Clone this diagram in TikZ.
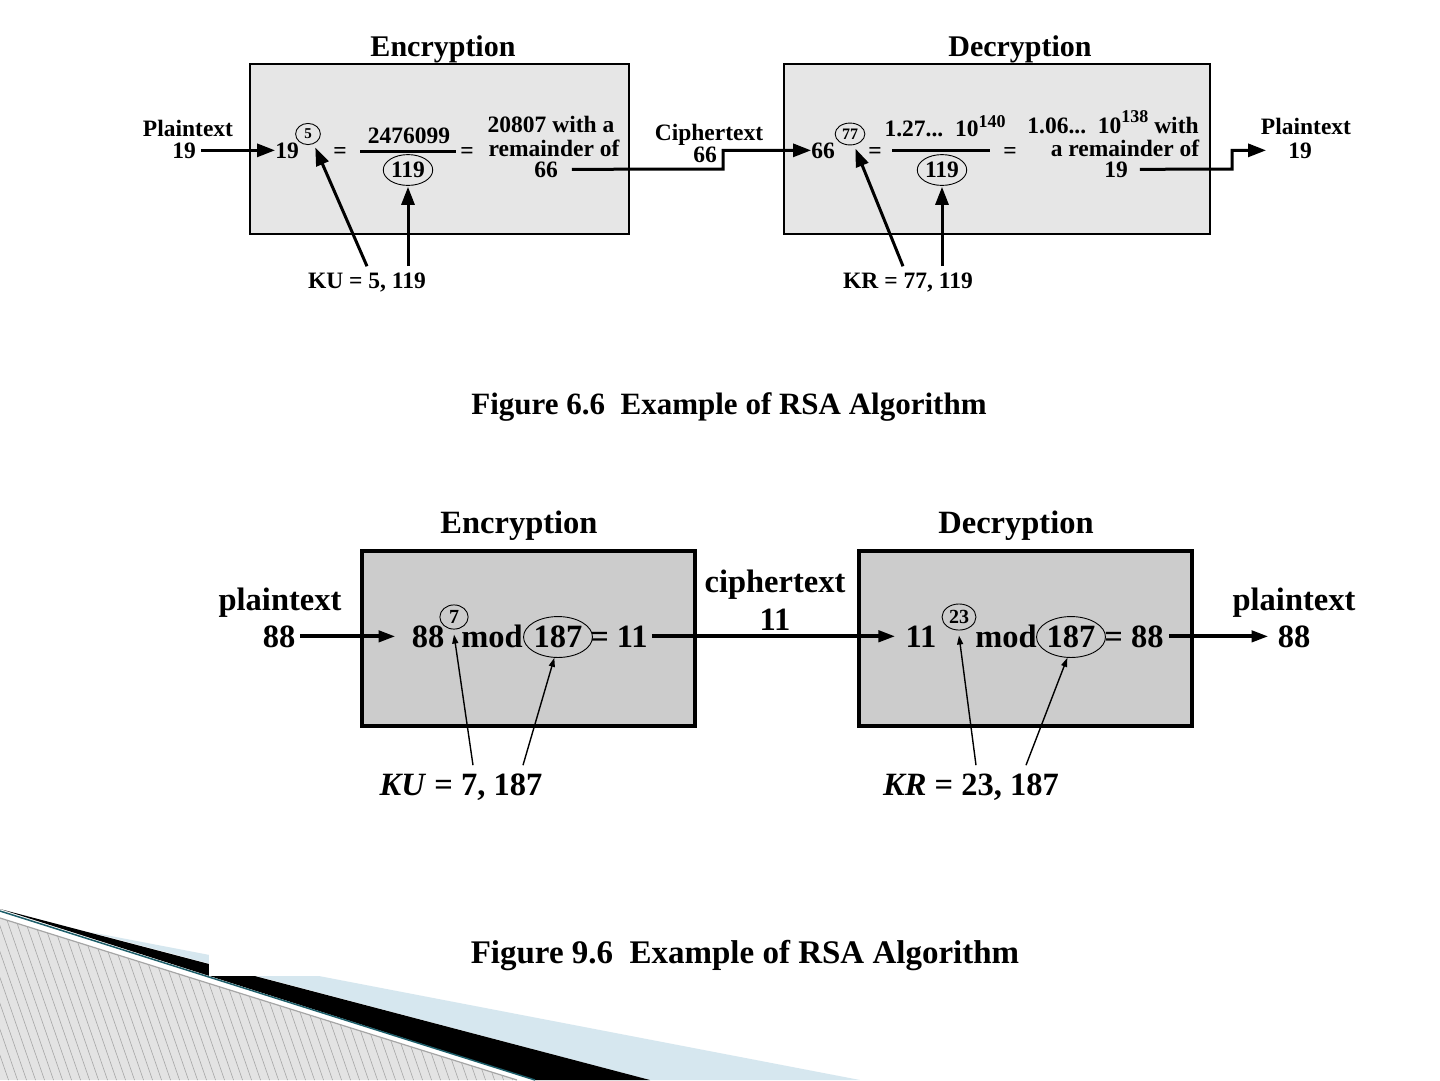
\documentclass[tikz,border=0pt]{standalone}
\usepackage{fontspec}
\setmainfont{Liberation Serif}
\usetikzlibrary{arrows.meta,positioning,shapes.geometric}
\definecolor{panelgray}{HTML}{E6E6E6}
\definecolor{paneldark}{HTML}{CCCCCC}
\definecolor{decoblue}{HTML}{D6E7EF}
\definecolor{decoteal}{HTML}{1D5E6A}
\definecolor{hatchfill}{HTML}{E3E3E3}
\definecolor{hatchline}{HTML}{A6A6A6}
\newcommand{\rsasmall}{\fontsize{23.5}{26}\selectfont\bfseries}
\newcommand{\rsahead}{\fontsize{30}{32}\selectfont\bfseries}
\newcommand{\rsabig}{\fontsize{32.5}{34}\selectfont\bfseries}
\newcommand{\rsasup}[2]{\raisebox{#1}{\fontsize{18}{18}\selectfont #2}}
\tikzset{
  panel/.style={draw=black, fill=panelgray, line width=2.5pt, inner sep=0pt, minimum height=170pt},
  panelb/.style={draw=black, fill=paneldark, line width=4pt, inner sep=0pt, minimum height=175pt},
  txt/.style={inner sep=0pt, anchor=base, font=\rsasmall},
  txtb/.style={inner sep=0pt, anchor=base, font=\rsabig},
  ring/.style={ellipse, draw, line width=0.9pt, inner sep=1pt},
  bar/.style={fill=black, inner sep=0pt, minimum height=3pt},
  arrow/.style={-{Triangle[length=18pt,width=13pt]}, line width=3pt},
  arrowb/.style={-{Triangle[length=17pt,width=11pt]}, line width=4pt},
  keyarrow/.style={-{Triangle[length=9pt,width=6pt]}, line width=1.4pt}
}

\begin{document}
\begin{tikzpicture}[x=1pt, y=-1pt]
  \useasboundingbox (0,0) rectangle (1440,1080);
  \fill[white] (0,0) rectangle (1440,1080);

  \begin{scope}
    \clip (0,918) -- (517,1080) -- (0,1080) -- cycle;
    \fill[hatchfill] (0,900) rectangle (600,1080);
    \foreach \i in {-10,...,70}
      \draw[hatchline, line width=0.6pt] (\i*9,900) -- ++(66,190);
  \end{scope}
  \draw[hatchline, line width=1.2pt] (0,918) -- (517,1080);
  \fill[decoblue] (90,932) -- (860,1080) -- (650,1080) -- cycle;
  \fill[black] (0,909) -- (650,1080) -- (535,1080) -- cycle;
  \draw[decoteal, line width=1.5pt] (0,911) -- (535,1080);
  \fill[white] (209,850) rectangle (1440,976);

  \node[txt, font=\rsahead] (enct) at (443,56) {Encryption};
  \node[panel, minimum width=379pt] (enc) at (439.5,149) {};
  \node[txt] (pta) at (188,136) {Plaintext};
  \node[txt] (ptb) at (184,158) {19};
  \node[txt] (m19) at (287,158) {19};
  \node[ring, inner xsep=5pt, inner ysep=2.5pt, font=\fontsize{15}{15}\selectfont\bfseries] (e5) at (308,134) {5};
  \node[txt] (eqa) at (340,158) {=};
  \node[txt] (numa) at (409,143) {2476099};
  \node[bar, minimum width=96pt] (bara) at (408,151) {};
  \node[ring, inner xsep=0.5pt, inner ysep=3pt, font=\rsasmall] (dena) at (408,170) {119};
  \node[txt] (eqb) at (467,158) {=};
  \node[txt] (resa) at (551,132) {20807 with a};
  \node[txt] (resb) at (554,156) {remainder of};
  \node[txt] (resc) at (546,177) {66};
  \node[txt] (kua) at (367,288) {KU = 5, 119};

  \node[txt] (cta) at (709,140) {Ciphertext};
  \node[txt] (ctb) at (705,162) {66};

  \node[txt, font=\rsahead] (dect) at (1020,56) {Decryption};
  \node[panel, minimum width=426pt] (dec) at (997,149) {};
  \node[txt] (d66) at (823,158) {66};
  \node[ring, inner xsep=2.5pt, inner ysep=2.5pt, font=\fontsize{16}{16}\selectfont\bfseries] (d77) at (850,134) {77};
  \node[txt] (eqc) at (875,158) {=};
  \node[txt] (numc) at (945,136) {1.27...~~10\rsasup{9pt}{140}};
  \node[bar, minimum width=98pt] (barc) at (941,150) {};
  \node[ring, inner xsep=0.5pt, inner ysep=3pt, font=\rsasmall] (denc) at (942,170) {119};
  \node[txt] (eqd) at (1010,158) {=};
  \node[txt] (resd) at (1113,133) {1.06...~~10\rsasup{11pt}{138}~with};
  \node[txt] (rese) at (1125,156) {a remainder of};
  \node[txt] (resf) at (1116,177) {19};
  \node[txt] (ptc) at (1306,134) {Plaintext};
  \node[txt] (ptd) at (1300,158) {19};
  \node[txt] (kra) at (908,288) {KR = 77, 119};

  \coordinate (ja) at (723,169);
  \coordinate (jb) at (1232,169);

  \draw[arrow] ([xshift=5pt]ptb.east) -- (m19.west);
  \draw[arrow] ([xshift=14pt]resc.east) -- (ja) |- (d66.west);
  \draw[arrow] ([xshift=12pt]resf.east) -- (jb) |- ([xshift=-22pt]ptd.west);
  \draw[arrow, shorten >=4pt] ([yshift=6pt]kua.north) -- (e5.-60);
  \draw[arrow, shorten >=1pt] ([xshift=41pt,yshift=6pt]kua.north) -- (dena.south);
  \draw[arrow, shorten >=4pt] ([xshift=-5pt,yshift=6pt]kra.north) -- (d77.-70);
  \draw[arrow, shorten >=1pt] ([xshift=34pt,yshift=6pt]kra.north) -- (denc.south);

  \node[txt, font=\fontsize{31}{31}\selectfont\bfseries] (capa) at (729,414) {Figure 6.6~~Example of RSA Algorithm};

  \node[txtb] (encbt) at (519,533) {Encryption};
  \node[panelb, minimum width=333pt] (encb) at (528.5,638.5) {};
  \node[txtb] (pla) at (280,610) {plaintext};
  \node[txtb] (plb) at (279,647) {88};
  \node[txtb] (c88) at (428,647) {88};
  \node[ring, inner xsep=5pt, inner ysep=2pt, font=\fontsize{20}{20}\selectfont\bfseries] (e7) at (454,617) {7};
  \node[txtb] (moda) at (492,647) {mod};
  \node[ring, inner xsep=0pt, inner ysep=3.5pt, font=\rsabig] (m187) at (558,637) {187};
  \node[txtb] (reqa) at (619,647) {= 11};
  \node[txtb] (kub) at (461,795) {\textit{KU} = 7, 187};

  \node[txtb] (ctc) at (775,592) {ciphertext};
  \node[txtb] (ctd) at (775,630) {11};

  \node[txtb] (decbt) at (1016,533) {Decryption};
  \node[panelb, minimum width=333pt] (decb) at (1025.5,638.5) {};
  \node[txtb] (c11) at (921,647) {11};
  \node[ring, inner xsep=2pt, inner ysep=2.5pt, font=\fontsize{20}{20}\selectfont\bfseries] (e23) at (959,617) {23};
  \node[txtb] (modb) at (1006,647) {mod};
  \node[ring, inner xsep=0pt, inner ysep=3.5pt, font=\rsabig] (m187b) at (1071,637) {187};
  \node[txtb] (reqb) at (1134,647) {= 88};
  \node[txtb] (plc) at (1294,610) {plaintext};
  \node[txtb] (pld) at (1294,647) {88};
  \node[txtb] (krb) at (971,795) {\textit{KR} = 23, 187};

  \draw[arrowb] ([xshift=5pt]plb.east) -- ([xshift=-16pt]c88.west);
  \draw[arrowb] ([xshift=4pt]reqa.east) -- ([xshift=-10pt]c11.west);
  \draw[arrowb] ([xshift=5pt]reqb.east) -- ([xshift=-9pt]pld.west);
  \draw[keyarrow] ([xshift=12pt,yshift=8pt]kub.north) -- ([yshift=-5pt]e7.south);
  \draw[keyarrow] ([xshift=62pt,yshift=8pt]kub.north) -- (m187.-100);
  \draw[keyarrow] ([xshift=5pt,yshift=8pt]krb.north) -- ([yshift=-5pt]e23.south);
  \draw[keyarrow] ([xshift=55pt,yshift=8pt]krb.north) -- (m187b.-100);

  \node[txt, font=\fontsize{33}{33}\selectfont\bfseries] (capb) at (745,963) {Figure 9.6~~Example of RSA Algorithm};
\end{tikzpicture}
\end{document}
